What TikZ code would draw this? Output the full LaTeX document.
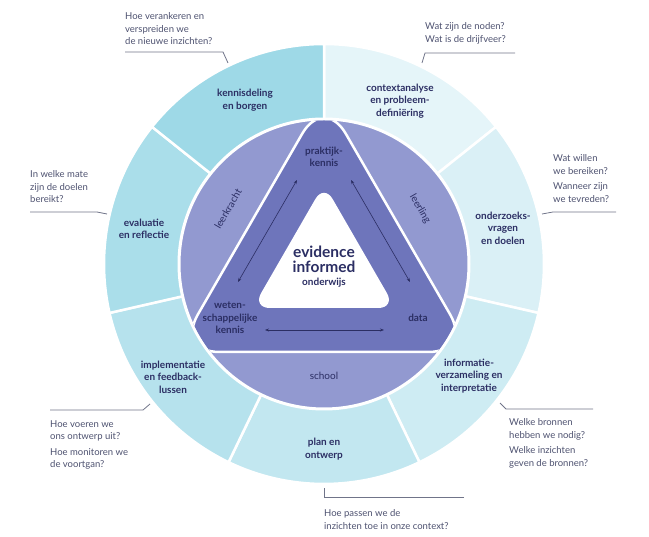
\documentclass[tikz,border=0pt]{standalone}
\usepackage{fontspec}
\setmainfont{Lato}
\usetikzlibrary{arrows.meta,positioning}
\definecolor{navy}{RGB}{43,46,99}
\definecolor{qgray}{RGB}{78,82,112}
\definecolor{leadgray}{RGB}{112,116,137}
\definecolor{ringpurple}{RGB}{146,153,208}
\definecolor{tripurple}{RGB}{110,117,187}
\definecolor{segcontext}{RGB}{229,245,249}
\definecolor{segvragen}{RGB}{218,240,246}
\definecolor{seginfo}{RGB}{206,236,243}
\definecolor{segplan}{RGB}{194,231,240}
\definecolor{segimpl}{RGB}{182,226,237}
\definecolor{segeval}{RGB}{170,222,234}
\definecolor{segkennis}{RGB}{158,217,231}

\begin{document}
\begin{tikzpicture}[x=1pt, y=1pt,
    segment/.style={draw=white, line width=2.5pt},
    phase/.style={text=navy, align=center, inner sep=1pt, font=\fontsize{10}{12.5}\selectfont\bfseries},
    pillar/.style={text=navy, inner sep=1pt, font=\fontsize{10}{12}\selectfont},
    question/.style={text=qgray, align=left, anchor=north west, inner sep=0pt, font=\fontsize{9.5}{12.5}\selectfont},
    leader/.style={draw=leadgray, line width=0.8pt},
    twoway/.style={draw=navy, line width=0.6pt, {Stealth[length=4pt,width=3pt]}-{Stealth[length=4pt,width=3pt]}}]
            \useasboundingbox (0,0) rectangle (649,-537);

            \begin{scope}[shift={(324,-264)}]
            \path[fill=segcontext, segment] (0,0) -- (90:220) arc[start angle=90, end angle=38.57, radius=220] -- cycle;
            \path[fill=segvragen, segment] (0,0) -- (38.57:220) arc[start angle=38.57, end angle=-12.86, radius=220] -- cycle;
            \path[fill=seginfo, segment] (0,0) -- (-12.86:220) arc[start angle=-12.86, end angle=-64.29, radius=220] -- cycle;
            \path[fill=segplan, segment] (0,0) -- (-64.29:220) arc[start angle=-64.29, end angle=-115.71, radius=220] -- cycle;
            \path[fill=segimpl, segment] (0,0) -- (-115.71:220) arc[start angle=-115.71, end angle=-167.14, radius=220] -- cycle;
            \path[fill=segeval, segment] (0,0) -- (-167.14:220) arc[start angle=-167.14, end angle=-218.57, radius=220] -- cycle;
            \path[fill=segkennis, segment] (0,0) -- (141.43:220) arc[start angle=141.43, end angle=90, radius=220] -- cycle;

            \path[fill=ringpurple, draw=white, line width=3pt] (0,0) circle[radius=145];
            \begin{scope}
            \clip (0,0) circle[radius=143.5];
            \path[fill=tripurple, draw=white, line width=2.5pt, rounded corners=43.3pt] (0,168) -- (-147.8,-88) -- (147.8,-88) -- cycle;
            \end{scope}
            \path[fill=white, rounded corners=17.3pt] (0,79.9) -- (-71.5,-44) -- (71.5,-44) -- cycle;
            \end{scope}

            \coordinate (pkL) at (297,-180);
            \coordinate (wkT) at (238,-282);
            \coordinate (pkR) at (351,-180);
            \coordinate (daT) at (410,-282);
            \coordinate (wkR) at (265,-330);
            \coordinate (daL) at (384,-330);
            \draw[twoway] (pkL) -- (wkT);
            \draw[twoway] (pkR) -- (daT);
            \draw[twoway] (wkR) -- (daL);

            \node[phase] (kennisdeling) at (245,-100) {kennisdeling\\en borgen};
            \node[phase] (context) at (400,-101) {contextanalyse\\en probleem-\\definiëring};
            \node[phase] (vragen) at (503,-228) {onderzoeks-\\vragen\\en doelen};
            \node[phase] (informatie) at (469,-376) {informatie-\\verzameling en\\interpretatie};
            \node[phase] (plan) at (324,-449) {plan en\\ontwerp};
            \node[phase] (implementatie) at (173,-377) {implementatie\\en feedback-\\lussen};
            \node[phase] (evaluatie) at (144,-229) {evaluatie\\en reflectie};

            \node[pillar] (school) at (324,-376) {school};
            \node[pillar, rotate=60] (leerkracht) at (228,-209) {leerkracht};
            \node[pillar, rotate=-60] (leerling) at (420,-209) {leerling};

            \node[phase] (praktijk) at (324,-157) {praktijk-\\kennis};
            \node[phase] (wetenschap) at (230,-318) {weten-\\schappelijke\\kennis};
            \node[phase] (data) at (418,-318) {data};

            \node[text=navy, align=center, inner sep=0pt, font=\fontsize{15.5}{15}\selectfont\bfseries] (evidence) at (324,-259.5) {evidence\\informed};
            \node[text=navy, inner sep=0pt, font=\fontsize{10}{12}\selectfont\bfseries] (onderwijs) at (324,-283) {onderwijs};

            \node[question] (qborgen) at (125,-12.4) {Hoe verankeren en\\verspreiden we\\de nieuwe inzichten?};
            \node[question] (qcontext) at (425,-22.4) {Wat zijn de noden?\\Wat is de drijfveer?};
            \node[question] (qvragen) at (553,-154.4) {Wat willen\\we bereiken?\\[3pt]Wanneer zijn\\we tevreden?};
            \node[question] (qeval) at (30,-170.4) {In welke mate\\zijn de doelen\\bereikt?};
            \node[question] (qimpl) at (50,-420.4) {Hoe voeren we\\ons ontwerp uit?\\[3pt]Hoe monitoren we\\de voortgan?};
            \node[question] (qinfo) at (509,-418.4) {Welke bronnen\\hebben we nodig?\\[3pt]Welke inzichten\\geven de bronnen?};
            \node[question] (qplan) at (324,-509.4) {Hoe passen we de\\inzichten toe in onze context?};

            \coordinate (lb1) at (125,-52);
            \coordinate (lb2) at (223,-52);
            \coordinate (lb3) at (228,-63);
            \coordinate (lc1) at (515,-53);
            \coordinate (lc2) at (425,-53);
            \coordinate (lc3) at (422,-63);
            \coordinate (lv1) at (616,-212);
            \coordinate (lv2) at (553,-212);
            \coordinate (lv3) at (542,-214);
            \coordinate (le1) at (30,-212);
            \coordinate (le2) at (97,-212);
            \coordinate (le3) at (107,-214);
            \coordinate (li1) at (50,-410);
            \coordinate (li2) at (143,-410);
            \coordinate (li3) at (150,-404);
            \coordinate (ln1) at (593,-409);
            \coordinate (ln2) at (506,-409);
            \coordinate (ln3) at (500,-403);
            \coordinate (lp1) at (464,-497);
            \coordinate (lp2) at (324,-497);
            \coordinate (lp3) at (324,-488);
            \draw[leader] (lb1) -- (lb2) -- (lb3);
            \draw[leader] (lc1) -- (lc2) -- (lc3);
            \draw[leader] (lv1) -- (lv2) -- (lv3);
            \draw[leader] (le1) -- (le2) -- (le3);
            \draw[leader] (li1) -- (li2) -- (li3);
            \draw[leader] (ln1) -- (ln2) -- (ln3);
            \draw[leader] (lp1) -- (lp2) -- (lp3);
        \end{tikzpicture}
\end{document}
